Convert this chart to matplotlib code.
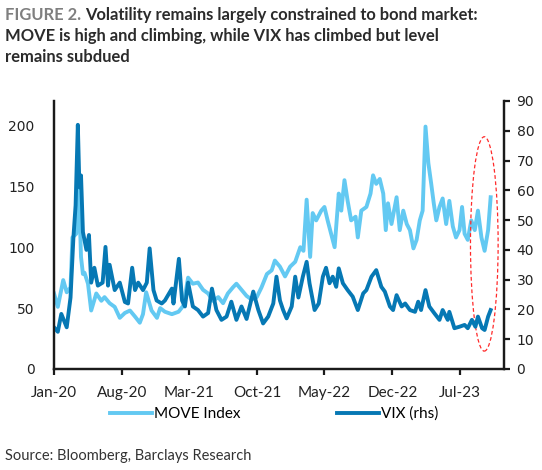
import matplotlib
matplotlib.use('Agg')
import matplotlib.pyplot as plt
import matplotlib.dates as mdates
from matplotlib.patches import Ellipse
import pandas as pd

# MOVE Index (left axis)
move_dates = ['2020-01-01', '2020-01-13', '2020-01-30', '2020-02-10', '2020-02-22', '2020-02-28',
              '2020-03-11', '2020-03-19', '2020-03-26', '2020-04-01', '2020-04-06', '2020-04-17',
              '2020-04-27', '2020-05-13', '2020-05-29', '2020-06-08', '2020-06-24', '2020-07-10',
              '2020-07-26', '2020-08-11', '2020-08-27', '2020-09-12', '2020-09-27', '2020-10-07',
              '2020-10-17', '2020-11-03', '2020-11-20', '2020-11-30', '2020-12-15', '2021-01-06',
              '2021-01-27', '2021-02-11', '2021-02-26', '2021-03-13', '2021-03-29', '2021-04-14',
              '2021-04-30', '2021-05-15', '2021-06-01', '2021-06-16', '2021-07-01', '2021-07-17',
              '2021-07-28', '2021-08-13', '2021-08-29', '2021-09-14', '2021-09-30', '2021-10-15',
              '2021-11-01', '2021-11-16', '2021-11-26', '2021-12-12', '2021-12-28', '2022-01-13',
              '2022-01-29', '2022-02-14', '2022-02-24', '2022-03-06', '2022-03-17', '2022-03-25',
              '2022-04-05', '2022-04-21', '2022-05-01', '2022-05-11', '2022-05-22', '2022-06-02',
              '2022-06-15', '2022-06-23', '2022-07-03', '2022-07-13', '2022-07-24', '2022-08-07',
              '2022-08-14', '2022-08-25', '2022-09-10', '2022-09-23', '2022-10-01', '2022-10-11',
              '2022-10-22', '2022-11-02', '2022-11-10', '2022-11-17', '2022-11-28', '2022-12-14',
              '2022-12-24', '2023-01-04', '2023-01-15', '2023-01-25', '2023-02-05', '2023-02-15',
              '2023-02-25', '2023-03-06', '2023-03-15', '2023-03-24', '2023-04-02', '2023-04-10',
              '2023-04-18', '2023-04-28', '2023-05-08', '2023-05-19', '2023-05-29', '2023-06-09',
              '2023-06-19', '2023-06-30', '2023-07-08', '2023-07-16', '2023-07-26', '2023-08-06',
              '2023-08-17', '2023-08-27', '2023-09-07', '2023-09-17', '2023-09-28', '2023-10-06']
move_values = [62, 51, 73, 63, 67, 108,
               111, 150, 92, 78, 79, 70,
               48, 62, 56, 59, 54, 51,
               42, 46, 48, 43, 38, 45,
               63, 48, 42, 50, 47, 45,
               47, 52, 75, 70, 71, 65,
               62, 56, 59, 54, 62, 67,
               70, 65, 60, 57, 59, 67,
               78, 81, 89, 84, 76, 84,
               88, 100, 97, 139, 92, 128,
               122, 130, 133, 122, 111, 100,
               144, 130, 155, 138, 122, 125,
               108, 130, 133, 144, 159, 152,
               156, 144, 114, 136, 119, 141,
               114, 130, 119, 114, 99, 106,
               122, 130, 199, 169, 152, 136,
               122, 133, 140, 119, 138, 117,
               108, 114, 133, 111, 106, 122,
               114, 130, 108, 97, 114, 141]

# VIX (right axis)
vix_dates = ['2020-01-01', '2020-01-13', '2020-01-24', '2020-02-10', '2020-02-22', '2020-03-02',
             '2020-03-09', '2020-03-16', '2020-03-21', '2020-03-26', '2020-04-01', '2020-04-12',
             '2020-04-20', '2020-04-27', '2020-05-07', '2020-05-18', '2020-06-02', '2020-06-11',
             '2020-06-19', '2020-06-24', '2020-07-10', '2020-07-26', '2020-08-11', '2020-08-21',
             '2020-09-03', '2020-09-12', '2020-09-22', '2020-10-07', '2020-10-19', '2020-10-28',
             '2020-11-09', '2020-11-19', '2020-12-05', '2020-12-15', '2021-01-06', '2021-01-11',
             '2021-01-28', '2021-02-07', '2021-02-16', '2021-02-26', '2021-03-13', '2021-03-29',
             '2021-04-14', '2021-04-30', '2021-05-12', '2021-05-26', '2021-06-11', '2021-06-27',
             '2021-07-12', '2021-07-28', '2021-08-13', '2021-08-29', '2021-09-19', '2021-10-05',
             '2021-10-20', '2021-11-05', '2021-11-21', '2021-12-01', '2021-12-12', '2021-12-22',
             '2022-01-02', '2022-01-18', '2022-01-29', '2022-02-08', '2022-02-22', '2022-03-06',
             '2022-03-15', '2022-03-31', '2022-04-13', '2022-04-26', '2022-05-06', '2022-05-17',
             '2022-05-27', '2022-06-07', '2022-06-15', '2022-06-28', '2022-07-13', '2022-07-29',
             '2022-08-14', '2022-08-31', '2022-09-10', '2022-09-26', '2022-10-11', '2022-10-27',
             '2022-11-07', '2022-11-23', '2022-12-03', '2022-12-14', '2022-12-30', '2023-01-10',
             '2023-01-25', '2023-02-10', '2023-02-20', '2023-03-01', '2023-03-15', '2023-03-27',
             '2023-04-12', '2023-04-28', '2023-05-08', '2023-05-24', '2023-05-29', '2023-06-14',
             '2023-06-30', '2023-07-16', '2023-07-26', '2023-08-08', '2023-08-19', '2023-08-27',
             '2023-09-09', '2023-09-17', '2023-09-28', '2023-10-06']
vix_values = [14, 12.5, 18.5, 14, 24, 44,
              55, 82, 61, 65, 46, 40,
              45, 29, 34, 28, 29, 41,
              28, 35, 26.5, 29, 22.5, 22,
              34, 26.5, 29, 26.5, 29, 40.5,
              26.5, 23, 22, 23, 27, 22,
              37, 23, 21, 29, 21, 19.8,
              17.6, 18.8, 27, 19.8, 16.5, 17.6,
              22.6, 16.5, 21, 16.8, 26, 19.8,
              15.3, 17.6, 22, 31, 23, 19.8,
              17, 21, 31, 24, 31, 36,
              28.8, 19.8, 22, 31, 34, 28.8,
              31, 27.6, 33.8, 28.8, 26.5, 24.3,
              19.8, 25.4, 26.5, 31, 33.2, 27.6,
              26, 21, 19.8, 24.8, 21, 22,
              19.8, 19.2, 22.6, 19.8, 26.5, 21,
              18.7, 16.5, 19.8, 16.5, 19.2, 13.7,
              14.2, 14.8, 13.7, 16.5, 14.2, 17.6,
              13.7, 13.1, 17.6, 19.8]

tick_labels = ['Jan-20', 'Aug-20', 'Mar-21', 'Oct-21', 'May-22', 'Dec-22', 'Jul-23']
tick_dates = ['2020-01-01', '2020-08-01', '2021-03-01', '2021-10-01', '2022-05-01', '2022-12-01', '2023-07-01']

move_color = '#63C9F2'
vix_color = '#0678B4'
dark = '#1a1a1a'
text_font = ['Lato', 'DejaVu Sans']

fig = plt.figure(figsize=(5.42, 4.70), dpi=100)
ax = fig.add_axes([54 / 542, 101 / 470, 450 / 542, 268 / 470])
ax2 = ax.twinx()

ax.plot(pd.to_datetime(move_dates), move_values, color=move_color, lw=2.8, label='MOVE Index')
ax2.plot(pd.to_datetime(vix_dates), vix_values, color=vix_color, lw=2.8, label='VIX (rhs)')

ax.set_xlim(pd.Timestamp('2020-01-01'), pd.Timestamp('2023-11-17'))
ax.set_ylim(0, 220)
ax2.set_ylim(0, 90)
ax.set_yticks([0, 50, 100, 150, 200])
ax2.set_yticks(range(0, 91, 10))
ax.set_xticks(pd.to_datetime(tick_dates))
ax.set_xticklabels(tick_labels, family=text_font, fontsize=11, color='#222222')

# axes style
for a in (ax, ax2):
    a.spines['top'].set_visible(False)
    for s in ('left', 'right', 'bottom'):
        a.spines[s].set_color(dark)
        a.spines[s].set_linewidth(1.6)
ax.tick_params(axis='y', length=0, pad=14, labelsize=10, labelcolor='#222222')
ax.tick_params(axis='x', length=4, width=1.6, color=dark, pad=8)
ax2.tick_params(axis='y', length=4, width=1.6, color=dark, pad=5, labelsize=10, labelcolor='#222222')

# dashed red ellipse around latest readings
ell_center = mdates.date2num(pd.Timestamp('2023-09-16'))
ell = Ellipse((ell_center, 42), width=87, height=72, fill=False,
              edgecolor='#FF2A2A', lw=0.9, linestyle=(0, (3, 2)))
ax2.add_patch(ell)

# legend
h1, l1 = ax.get_legend_handles_labels()
h2, l2 = ax2.get_legend_handles_labels()
fig.legend(h1 + h2, l1 + l2, loc='center', bbox_to_anchor=(274 / 542, 1 - 414 / 470), ncol=2,
           frameon=False, handlelength=2.8, handletextpad=0.1, columnspacing=6.3,
           prop={'family': text_font, 'size': 11})

# title
t1 = fig.text(5 / 542, 1 - 20 / 470, 'FIGURE 2.', family=text_font, weight='bold', fontsize=11.9,
              color='#7f7f7f', va='baseline')
fig.canvas.draw()
bb = t1.get_window_extent()
fig.text((bb.x1 + 4) / 542, 1 - 20 / 470, 'Volatility remains largely constrained to bond market:',
         family=text_font, weight='bold', fontsize=11.9, color='#2b2b2b', va='baseline')
fig.text(5 / 542, 1 - 41 / 470, 'MOVE is high and climbing, while VIX has climbed but level',
         family=text_font, weight='bold', fontsize=11.9, color='#2b2b2b', va='baseline')
fig.text(5 / 542, 1 - 62 / 470, 'remains subdued',
         family=text_font, weight='bold', fontsize=11.9, color='#2b2b2b', va='baseline')

fig.text(5 / 542, 1 - 460 / 470, 'Source: Bloomberg, Barclays Research', family=text_font,
         fontsize=10.5, color='#333333', va='baseline')

fig.savefig('out.png', dpi=100)
